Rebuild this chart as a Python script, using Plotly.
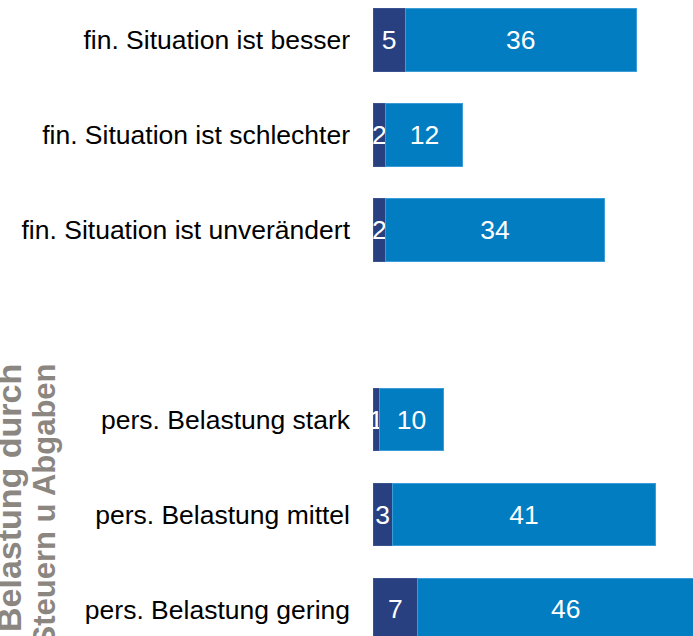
import plotly.graph_objects as go

# data
categories = [
    "fin. Situation ist besser",
    "fin. Situation ist schlechter",
    "fin. Situation ist unverändert",
    "pers. Belastung stark",
    "pers. Belastung mittel",
    "pers. Belastung gering",
]
spacer = " "
category_order = categories[:3] + [spacer] + categories[3:]
dark_values = [5, 2, 2, 1, 3, 7]
light_values = [36, 12, 34, 10, 41, 46]
group_label = ["Belastung durch", "Steuern u Abgaben"]

DARK = "#283F80"
LIGHT = "#027DC2"
GREY = "#8C8681"

W, H = 693, 636
ML = 373

def px_x(p):
    return (p - ML) / (W - ML)

def px_y(p):
    return 1 - p / H

fig = go.Figure()
for vals, col, edge in [(dark_values, DARK, "#3A5290"), (light_values, LIGHT, "#3C9CD8")]:
    fig.add_trace(go.Bar(
        y=categories, x=vals, orientation="h",
        marker=dict(color=col, line=dict(color=edge, width=1)),
        text=vals, texttemplate="%{x}",
        textposition="inside", insidetextanchor="middle",
        textangle=0, constraintext="none",
        textfont=dict(color="white", size=26.5, family="Liberation Sans, Arial"),
        cliponaxis=True, showlegend=False, hoverinfo="skip",
    ))

fig.update_layout(
    barmode="stack",
    bargap=0.337,
    width=W, height=H,
    margin=dict(l=ML, r=0, t=0, b=0, autoexpand=False),
    plot_bgcolor="white", paper_bgcolor="white",
    font=dict(family="Liberation Sans, Arial", size=26.5, color="black"),
    xaxis=dict(range=[0, 49.8], visible=False, fixedrange=True),
    yaxis=dict(
        type="category", categoryorder="array", categoryarray=category_order,
        range=[6.279, -0.416], showgrid=False, zeroline=False, showline=False,
        ticks="", ticklabelstandoff=22,
        tickfont=dict(size=26.5, color="black"),
        automargin=False, fixedrange=True,
    ),
)

# rotated group label, partly off the page like in the source
for line, cx, size in zip(group_label, [9, 44], [34, 31]):
    fig.add_annotation(
        text=f"<b>{line}</b>", textangle=-90,
        xref="paper", yref="paper",
        x=px_x(cx), y=px_y(362), xanchor="center", yanchor="top",
        showarrow=False,
        font=dict(size=size, color=GREY, family="Liberation Sans, Arial"),
    )

# page body margin off so the figure sits at the window's corner
fig.write_html("out.html", config={"displayModeBar": False},
               post_script="document.body.style.margin='0';")
